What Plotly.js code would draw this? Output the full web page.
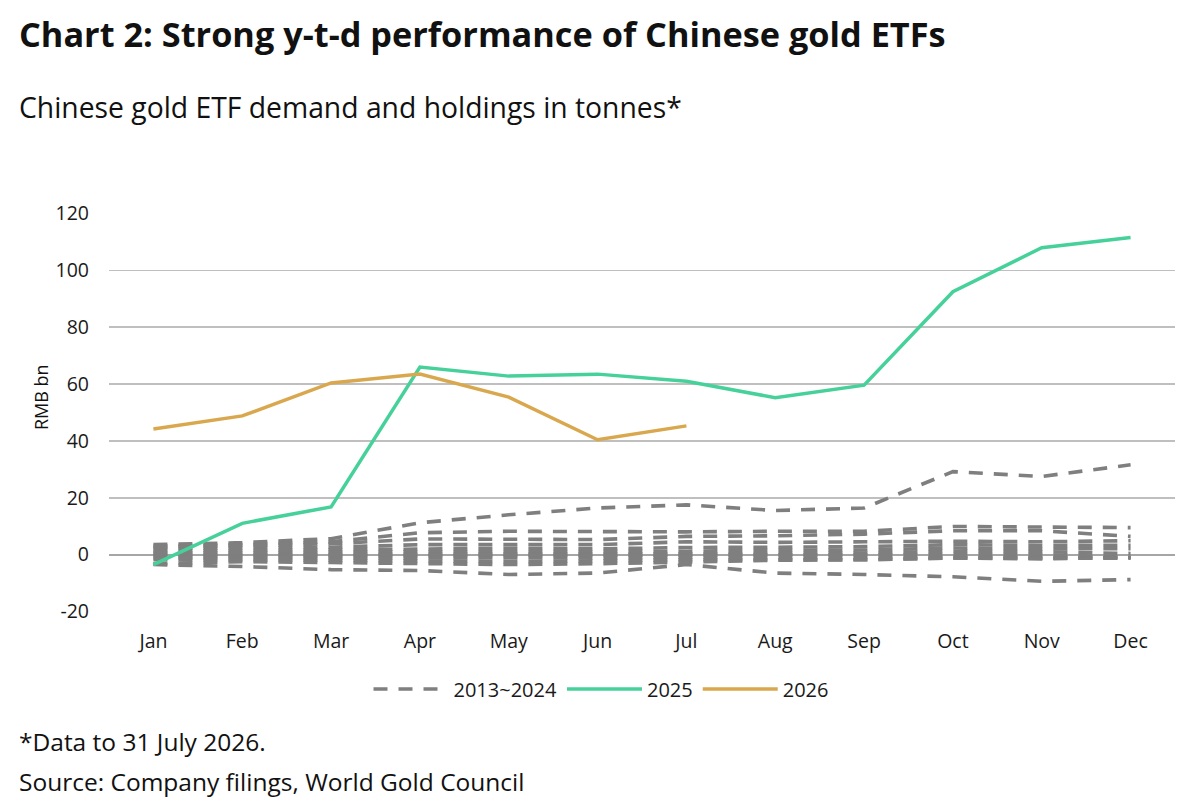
<!DOCTYPE html>
<html>
<head>
<meta charset="utf-8">
<script src="https://cdn.plot.ly/plotly-3.0.1.min.js"></script>
<style>html,body{margin:0;padding:0;background:#fff;}#chart{width:1200px;height:801px;}</style>
</head>
<body>
<div id="chart"></div>
<script>
const months = ["Jan","Feb","Mar","Apr","May","Jun","Jul","Aug","Sep","Oct","Nov","Dec"];

// 2013~2024 individual years
const y2013_2024 = [
  [3.5, 4.2, 5.6, 11.2, 14, 16.4, 17.5, 15.5, 16.4, 29.2, 27.5, 31.6],
  [3, 3.5, 4.5, 7.7, 8.2, 8, 8, 8.2, 8.2, 9.9, 9.6, 9.5],
  [2.5, 3, 3.8, 5.5, 5.3, 5.3, 6.4, 6.6, 7.2, 8.4, 8.4, 6.4],
  [2, 2.2, 2.6, 3.5, 3.5, 3.5, 4.5, 4.3, 4.5, 4.7, 4.5, 4.9],
  [1.2, 1.5, 1.8, 2.2, 2.2, 2, 2.5, 2.6, 2.8, 3.5, 3.2, 3.3],
  [0.6, 0.8, 1, 1, 1, 1, 1.2, 1.5, 1.6, 2.3, 2, 2.1],
  [0, 0, 0, 0, 0, 0, 0, 0.3, 0.5, 1.2, 1, 0.4],
  [-0.6, -0.5, -0.5, -0.5, -0.3, -0.2, 0, 0, 0, 0, 0, -0.9],
  [-1.2, -1.2, -1.2, -1.3, -1.4, -1.2, -1, -1, -1.2, -1.2, -1.2, -1.2],
  [-1.8, -1.8, -2, -2.2, -2.5, -2.2, -1.8, -1.8, -1.8, -1.2, -1.2, -1.2],
  [-3.2, -2.5, -2.8, -3.2, -3.5, -3.2, -2.5, -2, -1.8, -1.2, -1.5, -1],
  [-3.5, -4.2, -5.3, -5.6, -7, -6.5, -3.5, -6.5, -7, -7.8, -9.4, -8.8]
];
const y2025 = [-3.5, 11, 16.8, 66, 62.8, 63.5, 61, 55.2, 59.6, 92.5, 108, 111.6];
const y2026 = [44.2, 48.8, 60.4, 63.5, 55.4, 40.4, 45.3];

const months2026 = months.slice(0, y2026.length);

const traces = [];
y2013_2024.forEach((vals, i) => {
  traces.push({
    x: months, y: vals, type: 'scatter', mode: 'lines',
    name: '2013~2024', legendgroup: 'hist', showlegend: i === 0,
    line: {color: '#7f7f7f', width: 3.6, dash: '14px,11px'},
    hoverinfo: 'skip'
  });
});
traces.push({x: months, y: y2025, type: 'scatter', mode: 'lines', name: '2025',
  line: {color: '#47d19a', width: 3.5}});
traces.push({x: months2026, y: y2026, type: 'scatter', mode: 'lines', name: '2026',
  line: {color: '#d9a84e', width: 3.5}});

const font = "'Open Sans', 'Noto Sans', sans-serif";
const L = 109, R = 25, T = 213, B = 189;
const pw = 1200 - L - R, ph = 801 - T - B;
const px = v => (v - L) / pw;
const py = v => (801 - B - v) / ph;

const layout = {
  width: 1200, height: 801,
  margin: {l: L, r: R, t: T, b: B, pad: 0},
  paper_bgcolor: '#ffffff', plot_bgcolor: '#ffffff',
  font: {family: font, color: '#1a1a1a'},
  showlegend: true,
  legend: {orientation: 'h', x: px(601), y: py(689), xanchor: 'center', yanchor: 'middle',
    font: {size: 20, family: font, color: '#1a1a1a'}, itemwidth: 75, traceorder: 'normal',
    bgcolor: 'rgba(0,0,0,0)'},
  xaxis: {
    type: 'category', categoryorder: 'array', categoryarray: months,
    range: [-0.5, 11.5], showgrid: false, zeroline: false, showline: false,
    ticks: '', tickfont: {size: 19.5, family: font, color: '#1a1a1a'}, ticklabelstandoff: 15
  },
  yaxis: {
    range: [-20.2, 120.2], tickvals: [-20, 0, 20, 40, 60, 80, 100, 120],
    ticktext: ['-20', '0', '20', '40', '60', '80', '100', '120'],
    showgrid: true, gridcolor: '#bfbfbf', gridwidth: 1.5,
    zeroline: true, zerolinecolor: '#a6a6a6', zerolinewidth: 2,
    showline: false, ticks: '', ticklabelstandoff: 19,
    tickfont: {size: 19.5, family: font, color: '#1a1a1a'}
  },
  annotations: [
    {text: '<b>Chart 2: Strong y-t-d performance of Chinese gold ETFs</b>', xref: 'paper', yref: 'paper',
      x: px(17), y: py(33), xanchor: 'left', yanchor: 'middle', showarrow: false,
      font: {size: 34.3, family: font, color: '#111'}},
    {text: 'Chinese gold ETF demand and holdings in tonnes*', xref: 'paper', yref: 'paper',
      x: px(17), y: py(107), xanchor: 'left', yanchor: 'middle', showarrow: false,
      font: {size: 28.3, family: font, color: '#111'}},
    {text: 'RMB bn', xref: 'paper', yref: 'paper', x: px(41), y: py(397), textangle: -90,
      xanchor: 'center', yanchor: 'middle', showarrow: false,
      font: {size: 18, family: font, color: '#111'}},
    {text: '*Data to 31 July 2026.', xref: 'paper', yref: 'paper',
      x: px(17), y: py(741), xanchor: 'left', yanchor: 'middle', showarrow: false,
      font: {size: 24.5, family: font, color: '#111'}},
    {text: 'Source: Company filings, World Gold Council', xref: 'paper', yref: 'paper',
      x: px(17), y: py(781), xanchor: 'left', yanchor: 'middle', showarrow: false,
      font: {size: 24.5, family: font, color: '#111'}}
  ]
};

Plotly.newPlot('chart', traces, layout, {displayModeBar: false, staticPlot: true});
</script>
</body>
</html>
